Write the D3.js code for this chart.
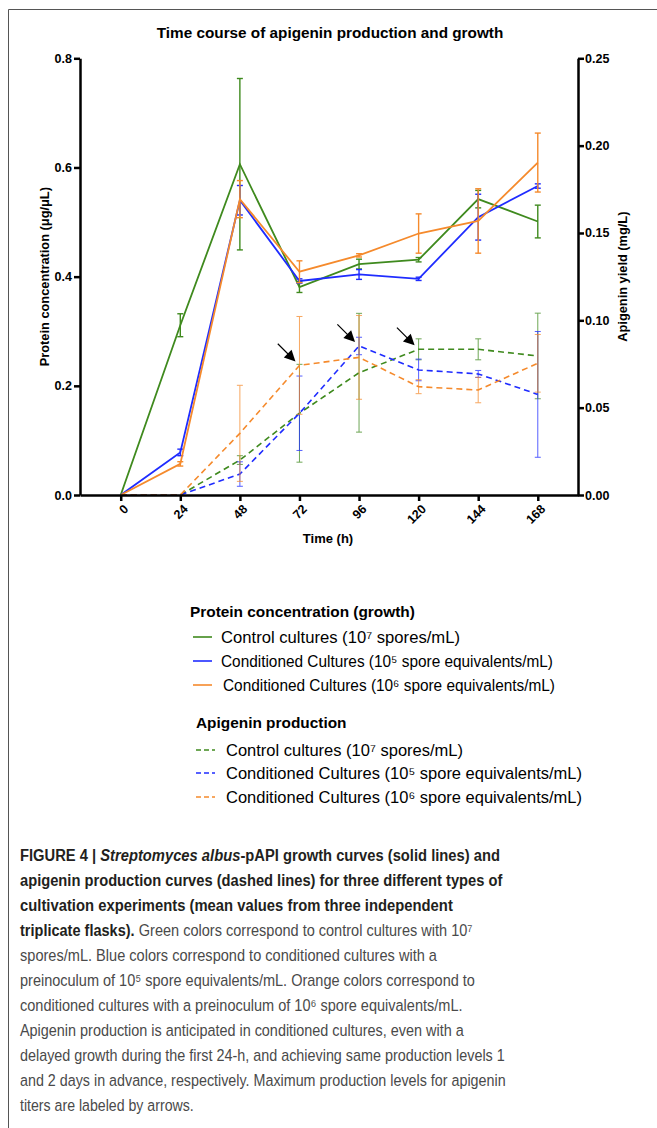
<!DOCTYPE html>
<html>
<head>
<meta charset="utf-8">
<script src="https://cdn.jsdelivr.net/npm/d3@7"></script>
<style>
  body { margin: 0; background: #fff; }
  svg { display: block; font-family: "Liberation Sans", Arial, sans-serif; }
</style>
</head>
<body>
<div id="chart"></div>
<script>
// time points (h)
const times = [0, 24, 48, 72, 96, 120, 144, 168]

// protein concentration (ug/uL), left axis, solid lines
const ctrlGrowth = [0, 0.311, 0.606, 0.381, 0.423, 0.431, 0.542, 0.501]
const ctrlGrowthErr = [0, 0.021, 0.157, 0.010, 0.009, 0.004, 0.016, 0.030]
const cond5Growth = [0, 0.078, 0.540, 0.392, 0.404, 0.396, 0.509, 0.566]
const cond5GrowthErr = [0, 0.006, 0.027, 0.004, 0.009, 0.003, 0.042, 0.004]
const cond6Growth = [0, 0.057, 0.542, 0.409, 0.439, 0.479, 0.502, 0.609]
const cond6GrowthErr = [0, 0.004, 0.034, 0.020, 0.003, 0.036, 0.059, 0.054]

// apigenin yield (mg/L), right axis, dashed lines
const ctrlApi = [0, 0, 0.0200, 0.0468, 0.0700, 0.0834, 0.0834, 0.0796]
const ctrlApiErr = [0, 0, 0.0025, 0.028, 0.034, 0.006, 0.006, 0.0245]
const cond5Api = [0, 0, 0.0120, 0.0468, 0.0853, 0.0716, 0.0693, 0.0576]
const cond5ApiErr = [0, 0, 0.007, 0.0213, 0.005, 0.0062, 0.002, 0.036]
const cond6Api = [0, 0, 0.0353, 0.0742, 0.0788, 0.0620, 0.0601, 0.0754]
const cond6ApiErr = [0, 0, 0.0275, 0.028, 0.024, 0.004, 0.0073, 0.0165]

// arrows mark max apigenin: [series, time]
const arrowMarks = [["cond6", 72], ["cond5", 96], ["ctrl", 120]]

const leftTicks = [0, 0.2, 0.4, 0.6, 0.8]
const rightTicks = [0, 0.05, 0.10, 0.15, 0.20, 0.25]

const green = "#3f8a1e", blue = "#1f2cff", orange = "#f58a2c"

const W = 657, H = 1128
const svg = d3.select("#chart").append("svg").attr("width", W).attr("height", H)

// frame
svg.append("path").attr("d", "M8.5,1128V9.5H657").attr("fill", "none").attr("stroke", "#555").attr("stroke-width", 1)

const pLeft = 80, pRight = 578, pTop = 58.3, pBottom = 495
const x = d3.scaleLinear().domain([-16.4, 184.2]).range([pLeft, pRight])
const yL = d3.scaleLinear().domain([0, 0.8]).range([pBottom, pTop])
const yR = d3.scaleLinear().domain([0, 0.25]).range([pBottom, pTop])

const g = svg.append("g")

// title
g.append("text").attr("x", 330).attr("y", 38).attr("text-anchor", "middle")
  .attr("font-size", 15.3).attr("font-weight", "bold").text("Time course of apigenin production and growth")

const series = [
  {key: "ctrl", vals: ctrlApi, err: ctrlApiErr, color: green, y: yR, dash: "6,4", w: 1.6},
  {key: "cond5", vals: cond5Api, err: cond5ApiErr, color: blue, y: yR, dash: "6,4", w: 1.6},
  {key: "cond6", vals: cond6Api, err: cond6ApiErr, color: orange, y: yR, dash: "6,4", w: 1.6},
  {key: "ctrlG", vals: ctrlGrowth, err: ctrlGrowthErr, color: green, y: yL, dash: null, w: 1.8},
  {key: "cond5G", vals: cond5Growth, err: cond5GrowthErr, color: blue, y: yL, dash: null, w: 1.8},
  {key: "cond6G", vals: cond6Growth, err: cond6GrowthErr, color: orange, y: yL, dash: null, w: 1.8}
]

series.forEach(s => {
  const pts = times.map((t, i) => ({t, v: s.vals[i], e: s.err[i]}))
  // error bars
  const eb = g.append("g").attr("stroke", s.color).attr("stroke-width", s.dash ? 1 : 1.4)
    .attr("opacity", s.dash ? 0.75 : 1)
  pts.filter(p => p.e > 0).forEach(p => {
    const xi = x(p.t), y1 = s.y(p.v + p.e), y2 = s.y(p.v - p.e)
    eb.append("line").attr("x1", xi).attr("x2", xi).attr("y1", y1).attr("y2", y2)
    eb.append("line").attr("x1", xi - 3).attr("x2", xi + 3).attr("y1", y1).attr("y2", y1)
    eb.append("line").attr("x1", xi - 3).attr("x2", xi + 3).attr("y1", y2).attr("y2", y2)
  })
  const line = d3.line().x(p => x(p.t)).y(p => s.y(p.v))
  g.append("path").datum(pts).attr("d", line).attr("fill", "none")
    .attr("stroke", s.color).attr("stroke-width", s.w)
    .attr("stroke-dasharray", s.dash)
})

// axes
const axisStyle = sel => {
  sel.selectAll("path").attr("stroke", "#000").attr("stroke-width", 2.5)
  sel.selectAll("line").attr("stroke", "#000").attr("stroke-width", 2.5)
  sel.selectAll("text").attr("font-weight", "bold").attr("font-size", 12.5)
    .attr("font-family", "Liberation Sans, Arial, sans-serif").attr("fill", "#000")
}
const xAxis = g.append("g").attr("transform", `translate(0,${pBottom})`)
  .call(d3.axisBottom(x).tickValues(times).tickSize(6).tickSizeOuter(0).tickFormat(d3.format("d")))
axisStyle(xAxis)
xAxis.selectAll("text").attr("text-anchor", "end").attr("dy", null).attr("y", null)
  .attr("transform", "translate(5,12) rotate(-45)").attr("dominant-baseline", "central")

const yAxisL = g.append("g").attr("transform", `translate(${pLeft},0)`)
  .call(d3.axisLeft(yL).tickValues(leftTicks).tickSize(6).tickSizeOuter(0).tickFormat(d3.format(".1f")))
axisStyle(yAxisL)
yAxisL.selectAll("text").attr("x", -8)

const yAxisR = g.append("g").attr("transform", `translate(${pRight},0)`)
  .call(d3.axisRight(yR).tickValues(rightTicks).tickSize(6).tickSizeOuter(0).tickFormat(d3.format(".2f")))
axisStyle(yAxisR)
yAxisR.selectAll("text").attr("x", 7)

// axis titles
g.append("text").attr("transform", `translate(49,${(pTop + pBottom) / 2}) rotate(-90)`)
  .attr("text-anchor", "middle").attr("font-weight", "bold").attr("font-size", 12.8)
  .text("Protein concentration (μg/μL)")
g.append("text").attr("transform", `translate(627,${(pTop + pBottom) / 2}) rotate(-90)`)
  .attr("text-anchor", "middle").attr("font-weight", "bold").attr("font-size", 12.8)
  .text("Apigenin yield (mg/L)")
g.append("text").attr("x", 328).attr("y", 543).attr("text-anchor", "middle")
  .attr("font-weight", "bold").attr("font-size", 13).text("Time (h)")

// arrows
const apiByKey = {ctrl: ctrlApi, cond5: cond5Api, cond6: cond6Api}
arrowMarks.forEach(([k, t]) => {
  const v = apiByKey[k][times.indexOf(t)]
  const tx = x(t) - 4, ty = yR(v) - 4
  const ag = g.append("g").attr("transform", `translate(${tx},${ty}) rotate(45)`)
  ag.append("line").attr("x1", -25).attr("x2", -8).attr("y1", 0).attr("y2", 0)
    .attr("stroke", "#000").attr("stroke-width", 1.2)
  ag.append("path").attr("d", "M0,0L-11,-5.5L-11,5.5Z").attr("fill", "#000")
})

// legend
const legendGroups = [
  {title: "Protein concentration (growth)", tx: 190, ty: 617, dash: null, sx: 193, lx: [221, 221, 223],
   ys: [637, 661, 685], fs: 15.6, lens: [239, 332, 332]},
  {title: "Apigenin production", tx: 196, ty: 728, dash: "5,3", sx: 196, lx: [226, 226, 226],
   ys: [750, 773, 797], fs: 16.4, lens: [237, 356, 356]}
]
const legendItems = [
  {color: green, label: "Control cultures (10⁷ spores/mL)"},
  {color: blue, label: "Conditioned Cultures (10⁵ spore equivalents/mL)"},
  {color: orange, label: "Conditioned Cultures (10⁶ spore equivalents/mL)"}
]
legendGroups.forEach(lg => {
  g.append("text").attr("x", lg.tx).attr("y", lg.ty).attr("font-weight", "bold")
    .attr("font-size", 15.4).text(lg.title)
  legendItems.forEach((it, i) => {
    const yy = lg.ys[i]
    g.append("line").attr("x1", lg.sx).attr("x2", lg.sx + 19).attr("y1", yy).attr("y2", yy)
      .attr("stroke", it.color).attr("stroke-width", 1.6).attr("stroke-dasharray", lg.dash)
    g.append("text").attr("x", lg.lx[i]).attr("y", yy + 5.5).attr("font-size", lg.fs)
      .attr("textLength", lg.lens[i]).attr("lengthAdjust", "spacingAndGlyphs")
      .text(it.label)
  })
})

// caption: each line is a group squeezed horizontally to the line width
const B = "b", N = "n"
const caption = [
  {w: 480, segs: [[B, "FIGURE 4 | "], [B, "Streptomyces albus", "i"], [B, "-pAPI growth curves (solid lines) and"]]},
  {w: 483, segs: [[B, "apigenin production curves (dashed lines) for three different types of"]]},
  {w: 433, segs: [[B, "cultivation experiments (mean values from three independent"]]},
  {w: 453, segs: [[B, "triplicate flasks)."], [N, " Green colors correspond to control cultures with 10⁷"]]},
  {w: 417, segs: [[N, "spores/mL. Blue colors correspond to conditioned cultures with a"]]},
  {w: 455, segs: [[N, "preinoculum of 10⁵ spore equivalents/mL. Orange colors correspond to"]]},
  {w: 443, segs: [[N, "conditioned cultures with a preinoculum of 10⁶ spore equivalents/mL."]]},
  {w: 444, segs: [[N, "Apigenin production is anticipated in conditioned cultures, even with a"]]},
  {w: 485, segs: [[N, "delayed growth during the first 24-h, and achieving same production levels 1"]]},
  {w: 486, segs: [[N, "and 2 days in advance, respectively. Maximum production levels for apigenin"]]},
  {w: 174, segs: [[N, "titers are labeled by arrows."]]}
]
caption.forEach((ln, i) => {
  const yy = 861 + i * 25.03
  const lg = g.append("g")
  let cx = 0
  ln.segs.forEach(([kind, str, mod]) => {
    const t = lg.append("text").attr("x", cx).attr("y", 0).attr("font-size", 17)
      .attr("font-weight", kind === B ? "bold" : "normal")
      .attr("fill", kind === B ? "#231f20" : "#4a4a4a")
      .style("white-space", "pre")
      .text(str)
    if (mod === "i") t.attr("font-style", "italic")
    cx += t.node().getComputedTextLength()
  })
  lg.attr("transform", `translate(20,${yy}) scale(${ln.w / cx},1)`)
})
</script>
</body>
</html>
